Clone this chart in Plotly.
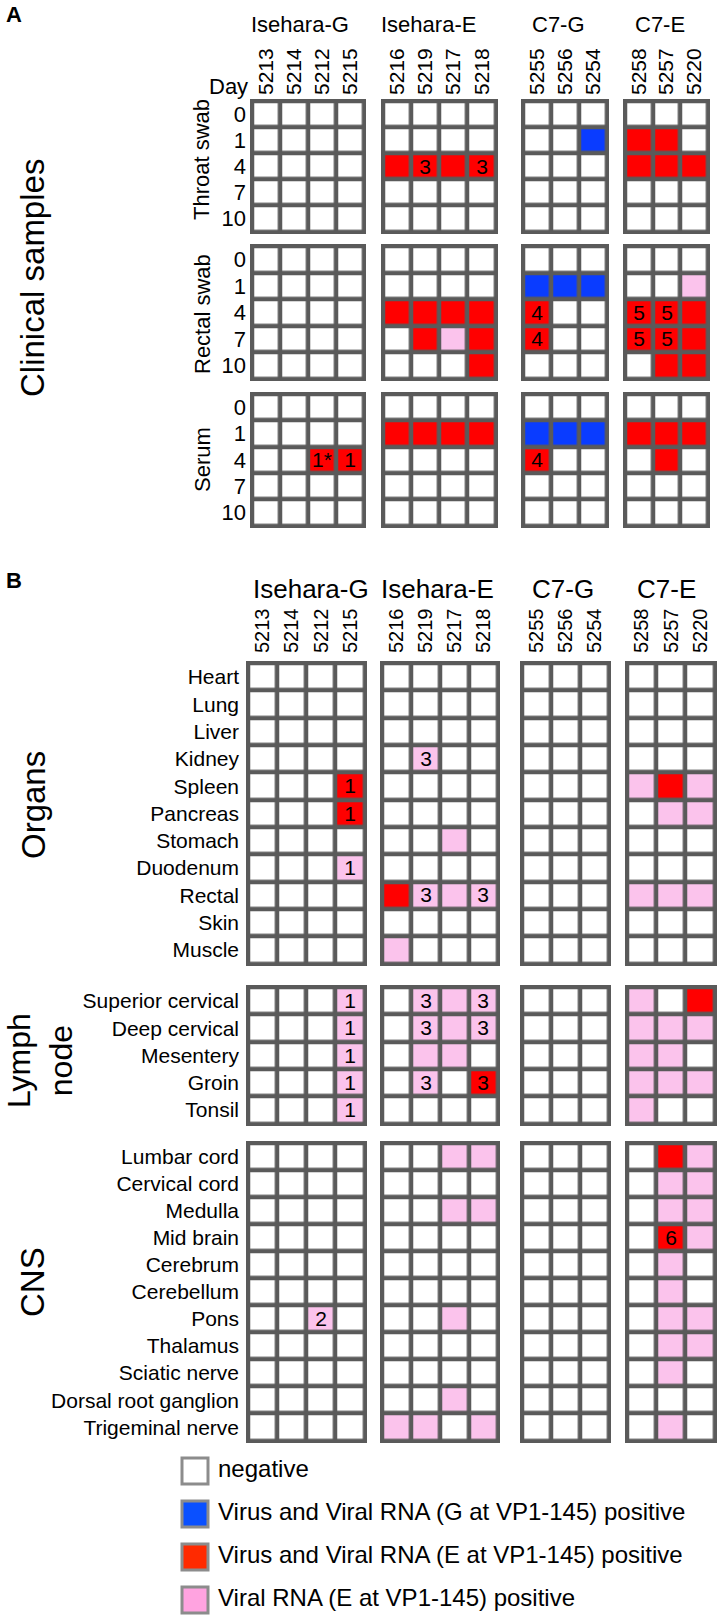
import plotly.graph_objects as go

W, H = 720, 1616
FONT = "Liberation Sans, Arial, Helvetica, sans-serif"

# ---------------- data ----------------
groups = ["Isehara-G", "Isehara-E", "C7-G", "C7-E"]
animals = [
    ["5213", "5214", "5212", "5215"],
    ["5216", "5219", "5217", "5218"],
    ["5255", "5256", "5254"],
    ["5258", "5257", "5220"],
]
days = ["0", "1", "4", "7", "10"]
clinical_blocks = ["Throat swab", "Rectal swab", "Serum"]

organ_rows = ["Heart", "Lung", "Liver", "Kidney", "Spleen", "Pancreas",
              "Stomach", "Duodenum", "Rectal", "Skin", "Muscle"]
lymph_rows = ["Superior cervical", "Deep cervical", "Mesentery", "Groin", "Tonsil"]
cns_rows = ["Lumbar cord", "Cervical cord", "Medulla", "Mid brain", "Cerebrum",
            "Cerebellum", "Pons", "Thalamus", "Sciatic nerve",
            "Dorsal root ganglion", "Trigeminal nerve"]
tissue_blocks = ["Organs", "Lymph<br>node", "CNS"]

# status: "." negative, "B" virus+RNA (G), "R" virus+RNA (E), "P" RNA only (E)
status_codes = {".": 0, "B": 1, "R": 2, "P": 3}

# Panel A: one list of day-rows per group
throat_swab = [
    ["....", "....", "....", "....", "...."],
    ["....", "....", "RRRR", "....", "...."],
    ["...", "..B", "...", "...", "..."],
    ["...", "RR.", "RRR", "...", "..."],
]
throat_swab_notes = [[], [(2, 1, "3"), (2, 3, "3")], [], []]

rectal_swab = [
    ["....", "....", "....", "....", "...."],
    ["....", "....", "RRRR", ".RPR", "...R"],
    ["...", "BBB", "R..", "R..", "..."],
    ["...", "..P", "RRR", "RRR", ".RR"],
]
rectal_swab_notes = [[], [], [(2, 0, "4"), (3, 0, "4")],
                     [(2, 0, "5"), (2, 1, "5"), (3, 0, "5"), (3, 1, "5")]]

serum = [
    ["....", "....", "..RR", "....", "...."],
    ["....", "RRRR", "....", "....", "...."],
    ["...", "BBB", "R..", "...", "..."],
    ["...", "RRR", ".R.", "...", "..."],
]
serum_notes = [[(2, 2, "1*"), (2, 3, "1")], [], [(2, 0, "4")], []]

# Panel B
organs = [
    ["....", "....", "....", "....", "...R", "...R", "....", "...P", "....", "....", "...."],
    ["....", "....", "....", ".P..", "....", "....", "..P.", "....", "RPPP", "....", "P..."],
    ["..."] * 11,
    ["...", "...", "...", "...", "PRP", ".PP", "...", "...", "PPP", "...", "..."],
]
organs_notes = [[(4, 3, "1"), (5, 3, "1"), (7, 3, "1")],
                [(3, 1, "3"), (8, 1, "3"), (8, 3, "3")], [], []]

lymph_node = [
    ["...P", "...P", "...P", "...P", "...P"],
    [".PPP", ".PPP", ".PP.", ".P.R", "...."],
    ["..."] * 5,
    ["P.R", "PPP", "PP.", "PPP", "P.."],
]
lymph_node_notes = [[(0, 3, "1"), (1, 3, "1"), (2, 3, "1"), (3, 3, "1"), (4, 3, "1")],
                    [(0, 1, "3"), (0, 3, "3"), (1, 1, "3"), (1, 3, "3"), (3, 1, "3"), (3, 3, "3")],
                    [], []]

cns = [
    ["....", "....", "....", "....", "....", "....", "..P.", "....", "....", "....", "...."],
    ["..PP", "....", "..PP", "....", "....", "....", "..P.", "....", "....", "..P.", "PP.P"],
    ["..."] * 11,
    [".RP", ".PP", ".PP", ".RP", ".P.", ".P.", ".PP", ".PP", ".P.", "...", ".P."],
]
cns_notes = [[(6, 2, "2")], [], [], [(3, 1, "6")]]

legend_labels = ["negative",
                 "Virus and Viral RNA (G at VP1-145) positive",
                 "Virus and Viral RNA (E at VP1-145) positive",
                 "Viral RNA (E at VP1-145) positive"]

# ---------------- styles / layout constants ----------------
C_NEG, C_G, C_E, C_RNA = "#ffffff", "#0a3cff", "#ff0000", "#fbc3ec"
LEG_COLORS = ["#ffffff", "#0a50ff", "#ff2a00", "#ffa3e0"]
LINE = "#5a5a5a"
GAP = 4.5
CS = [[0, C_NEG], [0.25, C_NEG], [0.25, C_G], [0.5, C_G],
      [0.5, C_E], [0.75, C_E], [0.75, C_RNA], [1, C_RNA]]

A_X = [(250, 366), (381, 498), (521, 609), (623, 710)]
A_Y = [(99, 234), (244, 381), (392, 528)]
B_X = [(246, 367), (380, 500), (520, 611), (625, 717)]
B_Y = [(661, 966), (985, 1126), (1141, 1443)]

fig = go.Figure()
axes = {}
shapes = []
k_counter = [0]


def px_x(v):
    return v / W


def px_y(v):
    return 1 - v / H


def add_grid(xr, yr, cols, rows, rows_status, notes, show_x, show_y,
             xfs, yfs, xstand, ystand):
    k_counter[0] += 1
    k = k_counter[0]
    nm = "" if k == 1 else str(k)
    n, m = len(cols), len(rows)
    pw = (xr[1] - xr[0] - GAP) / n
    ph = (yr[1] - yr[0] - GAP) / m
    padx = (GAP / 2) / pw
    pady = (GAP / 2) / ph
    z = [[status_codes[c] for c in r] for r in rows_status]
    txt = [["" for _ in cols] for _ in rows]
    for (i, j, t) in notes:
        txt[i][j] = t
    fig.add_trace(go.Heatmap(
        x=cols, y=rows, z=z, text=txt, texttemplate="%{text}",
        textfont=dict(size=21, color="black", family=FONT),
        colorscale=CS, zmin=-0.5, zmax=3.5, showscale=False,
        xgap=GAP, ygap=GAP, xaxis="x" + nm, yaxis="y" + nm, hoverinfo="skip"))
    axes["xaxis" + nm] = dict(
        domain=[px_x(xr[0]), px_x(xr[1])], anchor="y" + nm, type="category",
        range=[-0.5 - padx, n - 0.5 + padx], side="top", showticklabels=show_x,
        tickangle=-90, ticks="", showgrid=False, zeroline=False, showline=False,
        tickfont=dict(size=xfs, color="black", family=FONT),
        ticklabelstandoff=xstand, fixedrange=True)
    axes["yaxis" + nm] = dict(
        domain=[px_y(yr[1]), px_y(yr[0])], anchor="x" + nm, type="category",
        range=[m - 0.5 + pady, -0.5 - pady], showticklabels=show_y,
        ticks="", showgrid=False, zeroline=False, showline=False,
        tickfont=dict(size=yfs, color="black", family=FONT),
        ticklabelstandoff=ystand, fixedrange=True)
    shapes.append(dict(type="rect", xref="x" + nm + " domain", yref="y" + nm + " domain",
                       x0=0, x1=1, y0=0, y1=1, fillcolor=LINE, line=dict(width=0),
                       layer="below"))


panel_a = [(throat_swab, throat_swab_notes), (rectal_swab, rectal_swab_notes),
           (serum, serum_notes)]
for bi, (block, notes) in enumerate(panel_a):
    for gi in range(4):
        add_grid(A_X[gi], A_Y[bi], animals[gi], days, block[gi], notes[gi],
                 show_x=(bi == 0), show_y=(gi == 0), xfs=21, yfs=22,
                 xstand=3, ystand=3)

panel_b = [(organs, organs_notes, organ_rows), (lymph_node, lymph_node_notes, lymph_rows),
           (cns, cns_notes, cns_rows)]
for bi, (block, notes, rows) in enumerate(panel_b):
    for gi in range(4):
        add_grid(B_X[gi], B_Y[bi], animals[gi], rows, block[gi], notes[gi],
                 show_x=(bi == 0), show_y=(gi == 0), xfs=20, yfs=21,
                 xstand=7, ystand=6)

# ---------------- legend (own axes) ----------------
k_counter[0] += 1
ln = str(k_counter[0])
fig.add_trace(go.Scatter(
    x=[15] * 4, y=legend_labels, mode="markers",
    marker=dict(symbol="square", size=26, color=LEG_COLORS,
                line=dict(color="#8c8c8c", width=3)),
    xaxis="x" + ln, yaxis="y" + ln, hoverinfo="skip", showlegend=False))
fig.add_trace(go.Scatter(
    x=[38] * 4, y=legend_labels, mode="text", text=legend_labels,
    textposition="middle right", textfont=dict(size=24, color="black", family=FONT),
    xaxis="x" + ln, yaxis="y" + ln, hoverinfo="skip", showlegend=False))
LEG_TOP, LEG_STEP = 1449.5, 43.0
axes["xaxis" + ln] = dict(domain=[px_x(180), 1], anchor="y" + ln, range=[0, 540],
                          visible=False, fixedrange=True)
axes["yaxis" + ln] = dict(domain=[0, px_y(LEG_TOP)], anchor="x" + ln, type="category",
                          range=[-0.5 + (H - LEG_TOP) / LEG_STEP, -0.5],
                          visible=False, fixedrange=True)

# ---------------- text labels ----------------
ann = []


def label(text, x, y, size, angle=0, bold=False, xanchor="center"):
    ann.append(dict(text=("<b>%s</b>" % text) if bold else text, x=px_x(x), y=px_y(y),
                    xref="paper", yref="paper", showarrow=False, textangle=angle,
                    xanchor=xanchor, yanchor="middle",
                    font=dict(size=size, color="black", family=FONT)))


label("A", 4, 14, 22, bold=True, xanchor="left")
label("B", 4, 580, 22, bold=True, xanchor="left")
for g, cx in zip(groups, [300, 428, 558, 660]):
    label(g, cx, 25, 22)
for g, cx in zip(groups, [311, 437.5, 563, 666]):
    label(g, cx, 589, 26)
label("Day", 228, 86, 22)
for t, cy in zip(clinical_blocks, [160, 314, 460]):
    label(t, 202, cy, 22, angle=-90)
label("Clinical samples", 32, 278, 33, angle=-90)
for t, cx, cy, fs in zip(tissue_blocks, [34, 40, 32], [805, 1061, 1282], [33, 32, 33]):
    label(t, cx, cy, fs, angle=-90)

fig.update_layout(
    width=W, height=H, autosize=False,
    margin=dict(l=0, r=0, t=0, b=0),
    paper_bgcolor="white", plot_bgcolor="rgba(0,0,0,0)",
    showlegend=False, annotations=ann, shapes=shapes,
    font=dict(family=FONT, color="black"),
    **axes)

fig.write_html(
    "out.html",
    config={"displayModeBar": False, "staticPlot": True},
    post_script="document.body.style.margin='0';document.body.style.padding='0';"
                "document.documentElement.style.margin='0';")
